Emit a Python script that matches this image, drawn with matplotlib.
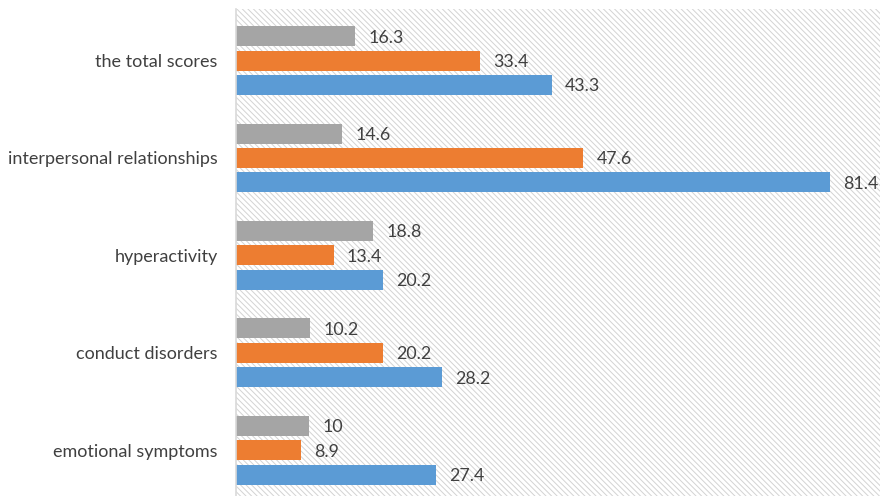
import numpy as np
import matplotlib.pyplot as plt
from matplotlib.patches import Rectangle

categories = ["emotional symptoms", "conduct disorders", "hyperactivity",
              "interpersonal relationships", "the total scores"]
blue_vals = [27.4, 28.2, 20.2, 81.4, 43.3]
orange_vals = [8.9, 20.2, 13.4, 47.6, 33.4]
gray_vals = [10, 10.2, 18.8, 14.6, 16.3]

plt.rcParams["font.family"] = ["Lato", "DejaVu Sans"]
plt.rcParams["hatch.color"] = "#d3d3d3"
plt.rcParams["hatch.linewidth"] = 0.7

fig = plt.figure(figsize=(8.8, 4.96), dpi=100)
ax = fig.add_axes([0.268, 0.0, 0.732, 0.982])

# hatched plot-area background
ax.add_patch(Rectangle((0, 0), 1, 1, transform=ax.transAxes, facecolor="white",
                       edgecolor="#d3d3d3", hatch="\\\\\\\\\\\\", linewidth=0, zorder=0))

y = np.arange(len(categories))
h = 0.205
step = 0.25
series = [(blue_vals, "#5B9BD5", -step), (orange_vals, "#ED7D31", 0), (gray_vals, "#A5A5A5", step)]
for vals, col, off in series:
    bars = ax.barh(y + off, vals, height=h, color=col, zorder=2)
    for b, v in zip(bars, vals):
        ax.annotate(f"{v:g}", (b.get_width(), b.get_y() + b.get_height() / 2),
                    xytext=(9.5, -1), textcoords="offset points", va="center", ha="left",
                    fontsize=12.8, color="#404040")

ax.set_xlim(0, 88.2)
ax.set_ylim(-0.47, 4.53)
ax.set_yticks(y)
ax.set_yticklabels(categories, fontsize=13, color="#404040")
ax.tick_params(axis="y", length=0, pad=13)
ax.set_xticks([])
for s in ["top", "right", "bottom"]:
    ax.spines[s].set_visible(False)
ax.spines["left"].set_color("#d9d9d9")
ax.spines["left"].set_linewidth(1.2)
ax.spines["left"].set_zorder(3)

fig.savefig("out.png", dpi=100)
